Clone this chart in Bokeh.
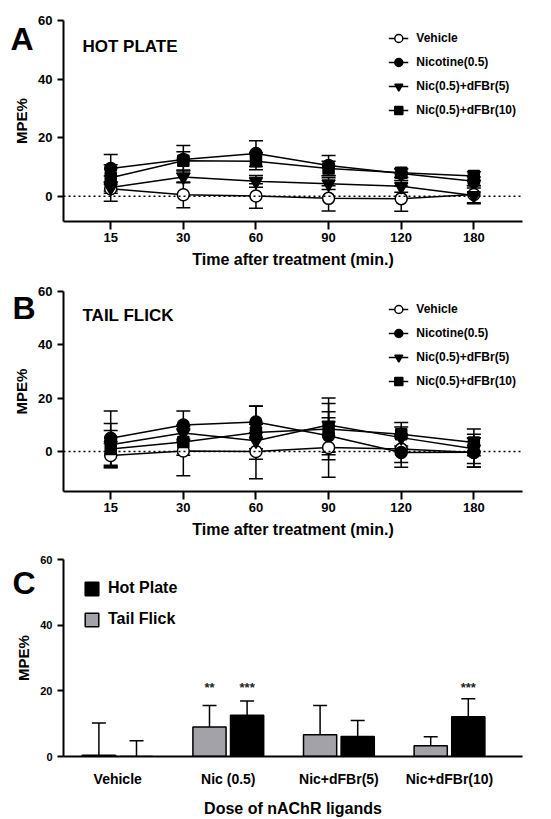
from bokeh.plotting import figure
from bokeh.models import (Range1d, FixedTicker, Whisker, ColumnDataSource, Span,
                          Label, Legend, LegendItem, TeeHead, Title)
from bokeh.layouts import column
from bokeh.embed import file_html
from bokeh.resources import INLINE
from bokeh.core.properties import value

FONT = "Liberation Sans"

# ---------------- data ----------------
times = ["15", "30", "60", "90", "120", "180"]
series_names = ["Vehicle", "Nicotine(0.5)", "Nic(0.5)+dFBr(5)", "Nic(0.5)+dFBr(10)"]

# Panel A : hot plate (MPE%)
hp_vehicle = [2.6, 0.5, 0.1, -0.7, -0.8, 0.6]
hp_vehicle_err = [4.3, 4.4, 4.2, 4.3, 4.3, 3.1]
hp_nicotine = [9.5, 12.6, 14.6, 10.5, 7.8, 5.1]
hp_nicotine_err = [4.8, 4.7, 4.4, 3.4, 1.5, 1.5]
hp_dfbr5 = [3.0, 6.6, 5.1, 4.3, 3.4, 0.3]
hp_dfbr5_err = [2.0, 2.0, 2.0, 2.0, 2.0, 2.5]
hp_dfbr10 = [6.3, 12.1, 12.0, 9.5, 8.0, 6.9]
hp_dfbr10_err = [4.5, 3.1, 2.9, 2.5, 1.5, 1.5]

# Panel B : tail flick (MPE%)
tf_vehicle = [-1.5, 0.2, 0.0, 1.5, 0.9, -0.4]
tf_vehicle_err = [4.5, 9.3, 10.2, 11.2, 5.0, 5.5]
tf_nicotine = [5.0, 9.9, 11.1, 5.9, -0.4, -0.3]
tf_nicotine_err = [10.2, 5.3, 5.9, 9.0, 5.5, 5.5]
tf_dfbr5 = [2.5, 6.9, 4.0, 9.9, 5.2, 1.0]
tf_dfbr5_err = [8.0, 3.0, 3.0, 10.2, 4.0, 5.5]
tf_dfbr10 = [0.9, 3.6, 7.1, 8.4, 6.5, 3.4]
tf_dfbr10_err = [7.0, 5.0, 10.0, 9.6, 4.4, 5.0]

# Panel C : overall MPE%
groups = ["Vehicle", "Nic (0.5)", "Nic+dFBr(5)", "Nic+dFBr(10)"]
tail_flick = [0.4, 9.0, 6.6, 3.3]
tail_flick_err = [9.8, 6.5, 8.9, 2.7]
hot_plate = [0.0, 12.6, 6.1, 12.1]
hot_plate_err = [4.8, 4.3, 4.9, 5.5]
stars_tf = ["", "**", "", ""]
stars_hp = ["", "***", "", "***"]
star_level = 21.0

markers = ["circle", "circle", "inverted_triangle", "square"]
fills = ["white", "black", "black", "black"]
msizes = [12, 12, 13, 11]


def style_axes(p, tick_font="13px"):
    p.outline_line_color = None
    p.xgrid.visible = False
    p.ygrid.visible = False
    p.background_fill_color = "white"
    p.border_fill_color = "white"
    for ax in (p.xaxis[0], p.yaxis[0]):
        ax.axis_line_width = 2
        ax.axis_line_color = "black"
        ax.major_tick_line_width = 2
        ax.major_tick_line_color = "black"
        ax.major_tick_in = 0
        ax.minor_tick_line_color = None
        ax.major_label_text_font = FONT
        ax.major_label_text_font_style = "bold"
        ax.major_label_text_color = "black"
        ax.axis_label_text_font = FONT
        ax.axis_label_text_font_style = "bold"
        ax.axis_label_text_color = "black"
    p.yaxis.major_label_text_font_size = tick_font
    p.yaxis.major_tick_out = 6
    p.yaxis.axis_label_text_font_size = "15px"
    p.yaxis.axis_label_standoff = 5
    p.yaxis.ticker = FixedTicker(ticks=[0, 20, 40, 60])


def add_letter(p, letter, offset, standoff):
    p.add_layout(Title(text=letter, align="left", offset=offset, standoff=standoff,
                       text_font=FONT, text_font_style="bold", text_font_size="32px",
                       text_color="black"), "above")


def time_panel(height, ymin, top_border, series, title, title_y):
    p = figure(width=551, height=height, x_range=Range1d(-0.65, 5.67),
               y_range=Range1d(ymin, 60), output_backend="svg",
               toolbar_location=None, min_border_left=63, min_border_right=29,
               min_border_top=top_border, min_border_bottom=49)
    style_axes(p)
    p.xaxis.ticker = FixedTicker(ticks=list(range(len(times))))
    p.xaxis.major_label_overrides = {i: t for i, t in enumerate(times)}
    p.xaxis.major_label_text_font_size = "13px"
    p.xaxis.major_tick_out = 8
    p.xaxis.major_label_standoff = 3
    p.xaxis.axis_label = "Time after treatment (min.)"
    p.xaxis.axis_label_text_font_size = "16px"
    p.xaxis.axis_label_standoff = 6
    p.yaxis.axis_label = "MPE%"

    p.add_layout(Span(location=0, dimension="width", line_dash="2 3",
                      line_width=1.5, line_color="black"))

    xs = list(range(len(times)))
    items = []
    for k, (vals, errs) in enumerate(series):
        src = ColumnDataSource(dict(x=xs, y=vals,
                                    upper=[v + e for v, e in zip(vals, errs)],
                                    lower=[v - e for v, e in zip(vals, errs)]))
        p.add_layout(Whisker(source=src, base="x", upper="upper", lower="lower",
                             line_width=1.5, line_color="black",
                             upper_head=TeeHead(size=14, line_width=1.5),
                             lower_head=TeeHead(size=14, line_width=1.5)))
    rends = []
    for k, (vals, errs) in enumerate(series):
        src = ColumnDataSource(dict(x=xs, y=vals))
        rends.append(p.line("x", "y", source=src, line_color="black", line_width=1.5))
    for k, (vals, errs) in enumerate(series):
        src = ColumnDataSource(dict(x=xs, y=vals))
        sc = p.scatter("x", "y", source=src, marker=markers[k], size=msizes[k],
                       fill_color=fills[k], line_color="black", line_width=1.5)
        items.append(LegendItem(label=series_names[k], renderers=[rends[k], sc]))

    leg = Legend(items=items, location="top_right", margin=6, padding=0,
                 glyph_width=20, glyph_height=24, label_height=24, spacing=0,
                 label_standoff=8, label_text_font=FONT, label_text_color="black",
                 label_text_font_style="bold", label_text_font_size="12px",
                 border_line_color=None, background_fill_alpha=0)
    p.add_layout(leg)

    frame_bottom = height - 49
    p.add_layout(Label(x=19, y=frame_bottom - title_y, x_units="screen", y_units="screen",
                       text=title, text_font=FONT, text_font_style="bold",
                       text_color="black",
                       text_font_size="17px", text_baseline="alphabetic"))
    return p


pA = time_panel(270, -8.6, 20,
                [(hp_vehicle, hp_vehicle_err), (hp_nicotine, hp_nicotine_err),
                 (hp_dfbr5, hp_dfbr5_err), (hp_dfbr10, hp_dfbr10_err)],
                "HOT PLATE", 46)
add_letter(pA, "A", -53, -73)

pB = time_panel(270, -15, 21,
                [(tf_vehicle, tf_vehicle_err), (tf_nicotine, tf_nicotine_err),
                 (tf_dfbr5, tf_dfbr5_err), (tf_dfbr10, tf_dfbr10_err)],
                "TAIL FLICK", 45)
add_letter(pB, "B", -51, -68)

# ---------------- panel C ----------------
pC = figure(width=551, height=279, x_range=Range1d(-0.49, 3.66),
            y_range=Range1d(0, 60), output_backend="svg", toolbar_location=None,
            min_border_left=63, min_border_right=29, min_border_top=19,
            min_border_bottom=60)
style_axes(pC, tick_font="11px")
pC.xaxis.ticker = FixedTicker(ticks=list(range(len(groups))))
pC.xaxis.major_label_overrides = {i: g for i, g in enumerate(groups)}
pC.xaxis.major_tick_line_color = None
pC.xaxis.major_tick_out = 0
pC.xaxis.major_label_text_font_size = "14px"
pC.xaxis.major_label_standoff = 14
pC.xaxis.axis_label = "Dose of nAChR ligands"
pC.xaxis.axis_label_text_font_size = "16px"
pC.xaxis.axis_label_standoff = 10
pC.yaxis.axis_label = "MPE%"

gx = list(range(len(groups)))
off = 0.17
src_tf = ColumnDataSource(dict(x=[i - off for i in gx], top=tail_flick,
                               upper=[v + e for v, e in zip(tail_flick, tail_flick_err)],
                               star=stars_tf, sy=[star_level] * len(gx)))
src_hp = ColumnDataSource(dict(x=[i + off for i in gx], top=hot_plate,
                               upper=[v + e for v, e in zip(hot_plate, hot_plate_err)],
                               star=stars_hp, sy=[star_level] * len(gx)))
for src in (src_tf, src_hp):
    pC.add_layout(Whisker(source=src, base="x", upper="upper", lower="top",
                          line_width=1.5, line_color="black",
                          upper_head=TeeHead(size=14, line_width=1.5),
                          lower_head=None))
b_tf = pC.vbar(x="x", top="top", bottom=0, width=0.3, source=src_tf,
               fill_color="#a3a2a8", line_color="black", line_width=1.5)
b_hp = pC.vbar(x="x", top="top", bottom=0, width=0.3, source=src_hp,
               fill_color="black", line_color="black", line_width=1.5)
for src in (src_tf, src_hp):
    pC.text(x="x", y="sy", text="star", source=src, text_align="center",
            text_baseline="middle", text_font=value(FONT),
            text_font_style="bold", text_font_size="13px", text_color="#222222")

legC = Legend(items=[LegendItem(label="Hot Plate", renderers=[b_hp]),
                     LegendItem(label="Tail Flick", renderers=[b_tf])],
              location="top_left", margin=20, padding=0, glyph_width=17,
              glyph_height=17, label_height=17, spacing=13, label_standoff=8,
              label_text_font=FONT, label_text_font_style="bold",
              label_text_color="black",
              label_text_font_size="16px", border_line_color=None,
              background_fill_alpha=0)
pC.add_layout(legC)
add_letter(pC, "C", -51, -82)

layout = column(pA, pB, pC, spacing=0)
open("out.html", "w").write(file_html(layout, INLINE))
